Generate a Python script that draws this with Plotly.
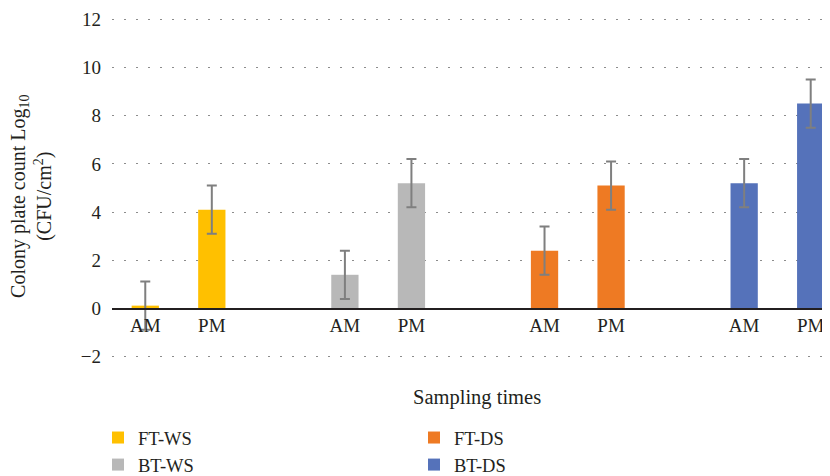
import plotly.graph_objects as go

groups = ["FT-WS", "BT-WS", "FT-DS", "BT-DS"]
times = ["AM", "PM"]
am_values = [0.12, 1.4, 2.4, 5.2]
pm_values = [4.1, 5.2, 5.1, 8.5]
am_errors = [1.0, 1.0, 1.0, 1.0]
pm_errors = [1.0, 1.0, 1.0, 1.0]
colors = ["#FFC000", "#B8B8B8", "#EE7A23", "#5572BA"]
y_ticks = [-2, 0, 2, 4, 6, 8, 10, 12]
legend_rank = [1, 3, 2, 4]

# category order: AM, PM, spacer for each group
cat_array = []
for i, g in enumerate(groups):
    cat_array += [f"{g} {t}" for t in times] + [" " * (i + 1)]
tick_vals = [f"{g} {t}" for g in groups for t in times]
tick_text = [t for g in groups for t in times]

font_family = "Liberation Serif, Times New Roman, serif"
txt = "#231F20"

fig = go.Figure()
for i, g in enumerate(groups):
    fig.add_trace(go.Bar(
        x=[f"{g} {t}" for t in times],
        y=[am_values[i], pm_values[i]],
        name=g,
        marker=dict(color=colors[i], line=dict(width=0)),
        width=0.41,
        error_y=dict(type="data", array=[am_errors[i], pm_errors[i]],
                     color="#7F7F7F", thickness=2, width=5),
        legendrank=legend_rank[i],
    ))

# page has an 8px body margin; figure sized to fit the window
OFF = 8
W, H = 830 - OFF, 476 - OFF
y_lo, y_hi = -2.3, 12.3
zero_frac = (0 - y_lo) / (y_hi - y_lo)
plot_top, plot_bot = 11.8 - OFF, 364.3 - OFF
plot_left = 112 - OFF
plot_w = W - plot_left

def py(pix):
    return (plot_bot - (pix - OFF)) / (plot_bot - plot_top)

def px(pix):
    return ((pix - OFF) - plot_left) / plot_w

fig.update_layout(
    width=W, height=H,
    margin=dict(l=plot_left, r=0, t=plot_top, b=H - plot_bot, autoexpand=False),
    plot_bgcolor="white", paper_bgcolor="white",
    barmode="overlay",
    font=dict(family=font_family, size=19, color=txt),
    showlegend=True,
    legend=dict(orientation="h", xref="container", yref="container",
                x=(98 - OFF) / W, xanchor="left", y=1 - (419 - OFF) / H, yanchor="top",
                entrywidth=271, entrywidthmode="pixels",
                font=dict(size=18.5, color=txt), itemsizing="constant",
                traceorder="normal"),
    xaxis=dict(type="category", categoryorder="array", categoryarray=cat_array,
               range=[-0.5, 10.29], tickvals=tick_vals, ticktext=tick_text,
               showgrid=False, showline=True, linecolor="#231F20", linewidth=1.5,
               ticks="", anchor="free", position=zero_frac,
               tickfont=dict(size=19, color=txt), zeroline=False),
    yaxis=dict(range=[y_lo, y_hi], tickvals=y_ticks,
               showgrid=True, gridcolor="#8C8C8C", gridwidth=1.2, griddash="2px,10px",
               zeroline=False, showline=False, ticks="",
               ticklabelstandoff=10,
               tickfont=dict(size=19, color=txt)),
)

fig.add_annotation(text="Colony plate count Log<sub>10</sub><br>(CFU/cm<sup>2</sup>)",
                   xref="paper", yref="paper", x=px(32), y=py(197),
                   xanchor="center", yanchor="middle", textangle=-90,
                   showarrow=False, font=dict(size=20, color=txt))
fig.add_annotation(text="Sampling times", xref="paper", yref="paper",
                   x=px(477), y=py(398), xanchor="center", yanchor="middle",
                   showarrow=False, font=dict(size=20.5, color=txt))

fig.write_html("out.html")
